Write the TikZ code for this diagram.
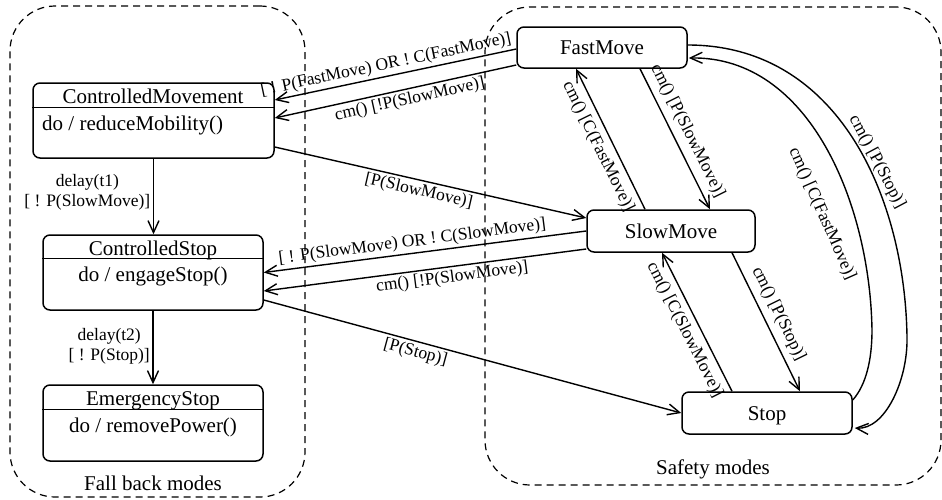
\documentclass[tikz,border=0pt]{standalone}
\usepackage{fontspec}
\setmainfont{Liberation Serif}
\usetikzlibrary{arrows.meta,calc}
\begin{document}
\begin{tikzpicture}[x=1pt,y=-1pt,
  state/.style={draw, line width=1.5pt, rounded corners=7pt, inner sep=0pt,
    font=\fontsize{21}{24}\selectfont, text height=14pt, text depth=0pt},
  big/.style={font=\fontsize{21}{24}\selectfont, inner sep=0pt, anchor=base},
  lbl/.style={font=\fontsize{17.5}{20}\selectfont, inner sep=2.5pt},
  steeplbl/.style={lbl, inner sep=6pt},
  conn/.style={line width=1.4pt, -{Straight Barb[length=12pt,width=11pt]}},
  group/.style={draw, line width=1.2pt, dash pattern=on 7pt off 5pt, rounded corners=45pt, inner sep=0pt},
  divider/.style={line width=1.5pt}
]
\useasboundingbox (0,0) rectangle (942,499);

% containers
\node[group, minimum width=295pt, minimum height=491pt] (fallback) at (157.5,251.5) {};
\node[group, minimum width=456pt, minimum height=478pt] (safety) at (713,246) {};
\node[big] (fbtxt) at (153,490) {Fall back modes};
\node[big] (sftxt) at (713,474) {Safety modes};

% fall back states
\node[state, minimum width=241pt, minimum height=75pt] (cm) at (153.5,120.5) {};
\draw[divider] ($(cm.north west)+(0,25)$) -- ($(cm.north east)+(0,25)$);
\node[big] (cmt) at (153,103) {ControlledMovement};
\node[big, anchor=base west] (cmb) at (42,130) {do / reduceMobility()};

\node[state, minimum width=220pt, minimum height=75pt] (cs) at (153,272.5) {};
\draw[divider] ($(cs.north west)+(0,24)$) -- ($(cs.north east)+(0,24)$);
\node[big] (cst) at (153,255) {ControlledStop};
\node[big] (csb) at (153,281.5) {do / engageStop()};

\node[state, minimum width=220pt, minimum height=76pt] (es) at (153,423) {};
\draw[divider] ($(es.north west)+(0,25)$) -- ($(es.north east)+(0,25)$);
\node[big] (est) at (153,405.5) {EmergencyStop};
\node[big] (esb) at (153,432.5) {do / removePower()};

% safety states
\node[state, minimum width=170pt, minimum height=41pt] (fm) at (602,47.5) {FastMove};
\node[state, minimum width=168pt, minimum height=42pt] (sm) at (671,231) {SlowMove};
\node[state, minimum width=170pt, minimum height=42pt] (st) at (767,413) {Stop};

% connectors fall back
\draw[conn] (cm.south) -- (cm.south |- cs.north)
  node[lbl, pos=.45, left, align=center] {delay(t1)\\{}[ ! P(SlowMove)]};
\draw[conn] (cs.south) -- (es.north)
  node[lbl, pos=.48, left, align=center] {delay(t2)\\{}[ ! P(Stop)]};

% between groups
\draw[conn] ($(fm.west)+(0,1.5)$) -- ($(cm.east)+(0,-20.5)$)
  node[lbl, pos=.53, sloped, above] {[ ! P(FastMove) OR ! C(FastMove)]};
\draw[conn] ($(fm.west)+(0,17.5)$) -- ($(cm.east)+(0,-2.5)$)
  node[lbl, pos=.45, sloped, below] {cm() [!P(SlowMove)]};
\draw[conn] ($(cm.east)+(0,26.5)$) -- ($(sm.west)+(0,-13)$)
  node[lbl, pos=.47, sloped, below] {[P(SlowMove)]};
\draw[conn] (sm.west) -- (cs.east)
  node[lbl, pos=.535, sloped, above] {[ ! P(SlowMove) OR ! C(SlowMove)]};
\draw[conn] ($(sm.west)+(0,18)$) -- ($(cs.east)+(0,18.5)$)
  node[lbl, pos=.42, sloped, below] {cm() [!P(SlowMove)]};
\draw[conn] ($(cs.east)+(0,27.5)$) -- (st.west)
  node[lbl, pos=.37, sloped, below] {[P(Stop)]};

% safety transitions
\draw[conn] ($(fm.south)+(38,0)$) -- ($(sm.north)+(39,0)$)
  node[steeplbl, pos=.49, sloped, above] {cm() [P(SlowMove)]};
\draw[conn] ($(sm.north)+(-26,0)$) -- ($(fm.south)+(-26,0)$)
  node[steeplbl, pos=.49, sloped, below] {cm() [C(FastMove)]};
\draw[conn] ($(sm.south)+(61,0)$) -- ($(st.north)+(33,0)$)
  node[steeplbl, pos=.49, sloped, above] {cm() [P(Stop)]};
\draw[conn] ($(st.north)+(-35,0)$) -- ($(sm.south)+(-9,0)$)
  node[steeplbl, pos=.49, sloped, below] {cm() [C(SlowMove)]};

\draw[conn] ($(fm.east)+(0,-2.5)$) .. controls (840,45) and (905,200) .. (907,337)
  .. controls (908,380) and (885,430) .. ($(st.east)+(2,15)$);
\node[lbl, rotate=-62] (lblouter) at (877,162) {cm() [P(Stop)]};
\draw[conn] ($(st.east)+(0,-13)$) .. controls (866,385) and (872,360) .. (872,330)
  .. controls (870,205) and (810,56) .. ($(fm.east)+(1,10.5)$);
\node[lbl, rotate=-66] (lblinner) at (822,214) {cm() [C(FastMove)]};
\end{tikzpicture}
\end{document}
